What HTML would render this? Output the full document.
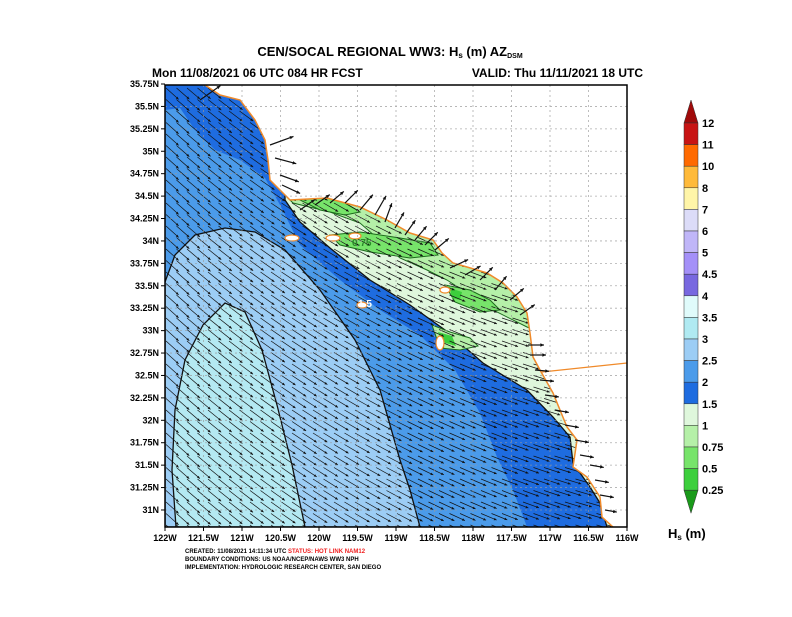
<!DOCTYPE html>
<html><head><meta charset="utf-8">
<style>
body{margin:0;background:#fff;}
svg text{font-family:"Liberation Sans",sans-serif;font-weight:bold;}
</style></head>
<body>
<svg id="s" width="792" height="612" viewBox="0 0 792 612" xmlns="http://www.w3.org/2000/svg">
<defs>
<clipPath id="plot"><rect x="165" y="85" width="462" height="442"/></clipPath>
<clipPath id="ocean"><polygon points="165,85 205,85 220,95 240,100 255,120 265,140 268,160 270,180 290,200 327,198 360,207 387,220 410,233 433,240 442,253 453,263 467,267 487,273 503,283 517,297 527,313 530,333 533,357 540,370 553,393 567,427 577,440 573,467 587,477 600,497 602,517 613,527 165,527"/></clipPath>
</defs>
<rect width="792" height="612" fill="#fff"/>
<g clip-path="url(#plot)">
<rect x="165" y="85" width="462" height="442" fill="#fff"/>
<g clip-path="url(#ocean)">
<rect x="165" y="85" width="462" height="442" fill="#4b9bea"/>
<polygon fill="#1e6ce0" points="165,85 165,110 180,108 195,130 215,150 240,160 265,178 280,205 300,245 340,280 380,310 420,335 455,370 480,413 497,457 513,490 527,527 640,527 640,85"/>
<polygon fill="#9ccdf5" stroke="#111" stroke-width="1.3" points="165,282 175,255 195,235 225,228 255,232 285,250 320,290 355,340 380,390 400,460 410,490 420,527 165,527"/>
<polygon fill="#b4e9f2" stroke="#111" stroke-width="1.3" points="176,527 172,470 175,410 185,360 203,325 225,303 245,312 262,350 277,405 292,465 305,527"/>
<polygon fill="#dff7dc" stroke="#111" stroke-width="1.3" points="285,200 300,222 330,248 370,280 410,305 445,330 483,363 527,390 553,417 570,437 573,463 590,487 600,503 607,527 640,527 640,85 285,85"/>
<polygon fill="#b5f0a8" stroke="#1b6b1b" stroke-width="1" points="288,198 293,203 330,212 360,223 400,258 427,270 447,280 493,310 527,327 535,330 540,200"/>
<polygon fill="#b5f0a8" stroke="#1b6b1b" stroke-width="1" points="432,325 450,332 470,338 478,346 460,350 440,348"/>
<polygon fill="#77e46a" stroke="#1b6b1b" stroke-width="1" points="300,200 320,196 345,203 360,212 345,215 320,210"/>
<polygon fill="#77e46a" stroke="#1b6b1b" stroke-width="1" points="330,235 360,232 400,238 430,243 438,255 410,258 370,252 340,245"/>
<polygon fill="#77e46a" stroke="#1b6b1b" stroke-width="1" points="445,285 470,290 490,300 500,310 480,312 455,302"/>
<polygon fill="#3ccf3c" points="450,288 462,292 460,300 452,298"/>
<polygon fill="#3ccf3c" points="438,332 452,336 456,346 442,342"/>
<g id="arrows"></g>
</g>
<g fill="#fff" stroke="#f08a2a" stroke-width="1.2">
<ellipse cx="292" cy="238" rx="7" ry="3"/>
<ellipse cx="333" cy="238" rx="7" ry="3"/>
<ellipse cx="355" cy="236" rx="6" ry="3"/>
<ellipse cx="362" cy="305" rx="5" ry="3"/>
<ellipse cx="440" cy="343" rx="4" ry="7"/>
<ellipse cx="445" cy="290" rx="5" ry="3"/>
</g>
<polyline fill="none" stroke="#f08a2a" stroke-width="1.5" points="205,85 220,95 240,100 255,120 265,140 268,160 270,180 290,200 327,198 360,207 387,220 410,233 433,240 442,253 453,263 467,267 487,273 503,283 517,297 527,313 530,333 533,357 540,370 553,393 567,427 577,440 573,467 587,477 600,497 602,517 613,527"/>
<polyline fill="none" stroke="#f08a2a" stroke-width="1.2" points="542,372 627,363"/>
<g id="grid" stroke="#999" stroke-width="0.8" stroke-dasharray="2,3" opacity="0.8"></g>
<g id="landarrows"></g>
<text x="352" y="246" font-size="10" fill="#2a8a2a" font-weight="normal">0.75</text>
<text x="358" y="307" font-size="10" fill="#fff">1.5</text>
</g>
<rect x="165" y="85" width="462" height="442" fill="none" stroke="#000" stroke-width="1.5"/>
<g id="ticks"></g>
<text x="390" y="56" font-size="13" text-anchor="middle">CEN/SOCAL REGIONAL WW3: H<tspan font-size="8" dy="2">s</tspan><tspan dy="-2"> (m) AZ</tspan><tspan font-size="7" dy="2">DSM</tspan></text>
<text x="152" y="77" font-size="12">Mon 11/08/2021 06 UTC 084 HR FCST</text>
<text x="643" y="77" font-size="12" text-anchor="end">VALID: Thu 11/11/2021 18 UTC</text>
<g font-size="6">
<text x="185" y="553">CREATED: 11/08/2021 14:11:34 UTC <tspan fill="#f02020">STATUS: HOT LINK NAM12</tspan></text>
<text x="185" y="561">BOUNDARY CONDITIONS: US NOAA/NCEP/NAWS WW3 NPH</text>
<text x="185" y="569">IMPLEMENTATION: HYDROLOGIC RESEARCH CENTER, SAN DIEGO</text>
</g>
<g id="cbar"></g>
<text x="668" y="538" font-size="13" font-weight="normal">H<tspan font-size="8" dy="2">s</tspan><tspan dy="-2">  (m)</tspan></text>
</svg>
<script>
(function(){
var NS="http://www.w3.org/2000/svg";
function el(t,a,p){var e=document.createElementNS(NS,t);for(var k in a)e.setAttribute(k,a[k]);p.appendChild(e);return e;}
var g=document.getElementById('grid'),tk=document.getElementById('ticks');
var lons=['122W','121.5W','121W','120.5W','120W','119.5W','119W','118.5W','118W','117.5W','117W','116.5W','116W'];
for(var i=0;i<13;i++){var x=165+i*38.5;
 if(i>0&&i<12)el('line',{x1:x,y1:85,x2:x,y2:527},g);
 el('line',{x1:x,y1:527,x2:x,y2:531,stroke:'#000'},tk);
 var t=el('text',{x:x,y:541,'font-size':9,'text-anchor':'middle'},tk);t.textContent=lons[i];}
var lats=['35.75N','35.5N','35.25N','35N','34.75N','34.5N','34.25N','34N','33.75N','33.5N','33.25N','33N','32.75N','32.5N','32.25N','32N','31.75N','31.5N','31.25N','31N'];
for(var j=0;j<20;j++){var y=84+j*22.42;
 if(j>0)el('line',{x1:165,y1:y,x2:627,y2:y},g);
 el('line',{x1:161,y1:y,x2:165,y2:y,stroke:'#000'},tk);
 var t=el('text',{x:159,y:y+3,'font-size':9,'text-anchor':'end'},tk);t.textContent=lats[j];}
var ar=document.getElementById('arrows');
function arrow(p,x,y,ang,L,w,hs){var dx=Math.cos(ang)*L,dy=Math.sin(ang)*L;
 var x2=x+dx,y2=y+dy;el('line',{x1:x,y1:y,x2:x2,y2:y2,stroke:'#111','stroke-width':w},p);
 var a1=ang+2.7,a2=ang-2.7;
 el('polygon',{points:x2+','+y2+' '+(x2+Math.cos(a1)*hs)+','+(y2+Math.sin(a1)*hs)+' '+(x2+Math.cos(a2)*hs)+','+(y2+Math.sin(a2)*hs),fill:'#111'},p);}
for(var y=88;y<530;y+=11.5){for(var x=166;x<625;x+=10.5){
 var f=(x-165)/462;var ang=(42-28*f-8*(527-y)/442*f)*Math.PI/180;
 arrow(ar,x,y,ang,17,0.7,3);}}
var la=document.getElementById('landarrows');
var pts=[[200,100,-35,25],[270,145,-20,25],[275,158,15,22],[280,175,20,20],[282,185,25,20],[300,210,-35,18],[315,205,-35,18],[330,203,-40,18],[345,203,-45,18],[360,210,-50,20],[375,215,-60,22],[385,222,-70,20],[395,228,-60,18],[405,235,-55,18],[415,240,-50,18],[425,245,-45,18],[435,250,-40,18],[450,268,-25,20],[465,275,-30,18],[480,280,-45,18],[495,290,-50,18],[510,300,-40,18],[520,315,-35,18],[528,345,0,16],[530,355,0,16],[535,370,5,14],[540,380,5,14],[545,395,8,14],[555,410,10,14],[565,425,10,14],[575,440,10,14],[580,455,10,14],[590,465,10,14],[595,480,10,14],[600,495,10,14],[605,510,10,12]];
pts.forEach(function(p){arrow(la,p[0],p[1],p[2]*Math.PI/180,p[3],1.2,4);});
var cb=document.getElementById('cbar');
var cols=['#c81414','#ff6a00','#ffba3a','#fff5a8','#dcdcf8','#c0b6f8','#a490f8','#7868e0','#e0fbfb','#b0eaf2','#9ccdf5','#4b9bea','#1e6ce0','#dff7dc','#b5f0a8','#77e46a','#3ccf3c'];
var labs=['12','11','10','8','7','6','5','4.5','4','3.5','3','2.5','2','1.5','1','0.75','0.5','0.25'];
var x0=684,x1=698,t0=123,h=21.6;
el('polygon',{points:x0+','+t0+' '+x1+','+t0+' '+((x0+x1)/2)+',100',fill:'#a00a0a',stroke:'#333','stroke-width':0.5},cb);
for(var k=0;k<17;k++)el('rect',{x:x0,y:t0+k*h,width:x1-x0,height:h,fill:cols[k],stroke:'#333','stroke-width':0.5},cb);
var bot=t0+17*h;
el('polygon',{points:x0+','+bot+' '+x1+','+bot+' '+((x0+x1)/2)+','+(bot+23),fill:'#1a9a1a',stroke:'#333','stroke-width':0.5},cb);
for(var k=0;k<18;k++){var t=el('text',{x:702,y:t0+k*h+4,'font-size':11,'font-weight':'normal'},cb);t.textContent=labs[k];}
})();
</script>
</body></html>
